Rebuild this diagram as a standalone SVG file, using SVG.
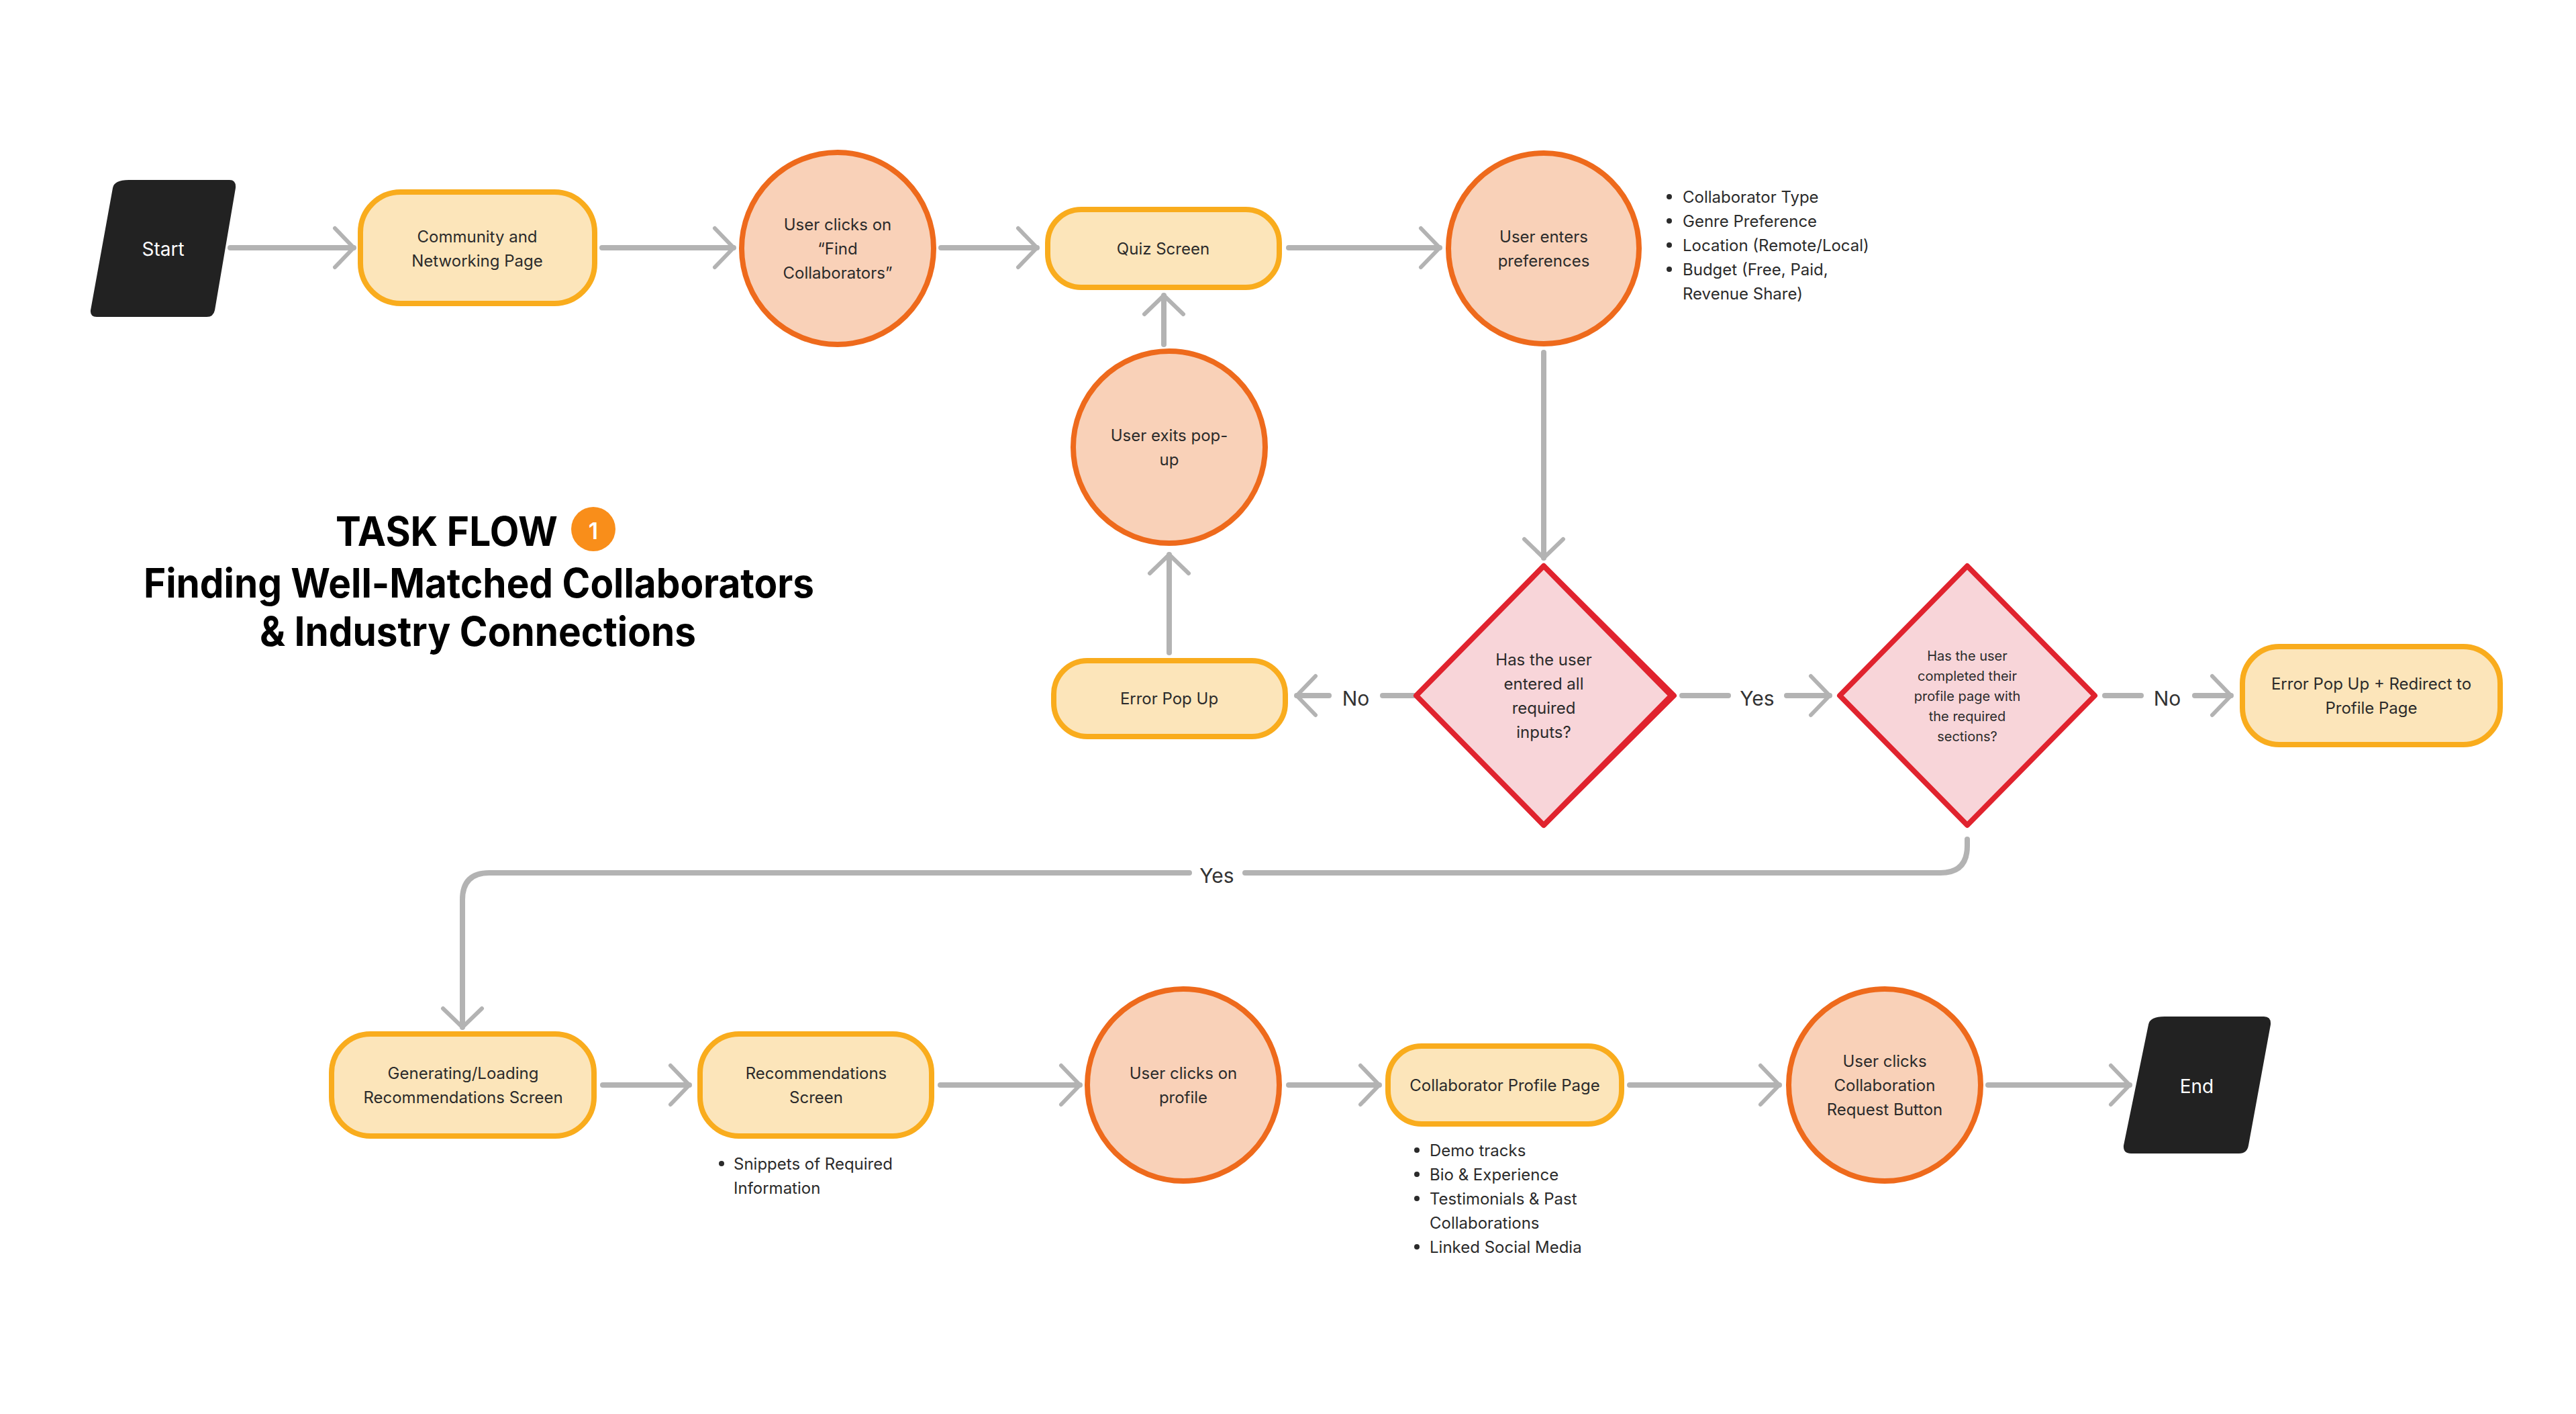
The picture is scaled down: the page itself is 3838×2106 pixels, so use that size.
<svg xmlns="http://www.w3.org/2000/svg" width="3838" height="2106" viewBox="0 0 3838 2106">
<style>
text{font-family:Inter,"Noto Sans","Liberation Sans",sans-serif;fill:#2b2b2b}
.t{font-size:24px;text-anchor:middle;dominant-baseline:central}
.b{font-size:24px}
.box{fill:#FCE5BA;stroke:#F9AC1D;stroke-width:8}
.circ{fill:#F9D1B8;stroke:#EE6A1C;stroke-width:8}
.dia{fill:#F8D5D9;stroke:#E0232E;stroke-width:8;stroke-linejoin:round}
.term{fill:#222222}
.c{fill:none;stroke:#B3B3B3;stroke-width:8;stroke-linecap:round}
.a{marker-end:url(#arr)}
.lbl{font-size:30px;text-anchor:middle;dominant-baseline:central;fill:#333}
</style>
<defs>
<marker id="arr" markerUnits="userSpaceOnUse" markerWidth="80" markerHeight="80" viewBox="-40 -40 80 80" refX="0" refY="0" orient="auto" overflow="visible">
<path d="M-28,-29 L0,0 L-28,29" fill="none" stroke="#B3B3B3" stroke-width="6" stroke-linecap="round" stroke-linejoin="round"/>
</marker>
</defs>
<rect width="3838" height="2106" fill="#fff"/>

<g id="connectors">
<line class="c a" x1="343" y1="369" x2="527" y2="369"/>
<line class="c a" x1="897" y1="369" x2="1093" y2="369"/>
<line class="c a" x1="1402" y1="369" x2="1545" y2="369"/>
<line class="c a" x1="1920" y1="369" x2="2145" y2="369"/>
<line class="c a" x1="2300" y1="525" x2="2300" y2="831"/>
<line class="c a" x1="1734" y1="513" x2="1734" y2="440"/>
<line class="c a" x1="1742" y1="972" x2="1742" y2="826"/>
<line class="c" x1="2106" y1="1036" x2="2060" y2="1036"/>
<text class="lbl" x="2020" y="1040">No</text>
<line class="c a" x1="1980" y1="1036" x2="1932" y2="1036"/>
<line class="c" x1="2506" y1="1036" x2="2575" y2="1036"/>
<text class="lbl" x="2618" y="1040">Yes</text>
<line class="c a" x1="2662" y1="1036" x2="2726" y2="1036"/>
<line class="c" x1="3136" y1="1036" x2="3190" y2="1036"/>
<text class="lbl" x="3229" y="1040">No</text>
<line class="c a" x1="3270" y1="1036" x2="3324" y2="1036"/>
<path class="c" d="M2931,1250 L2931,1260 Q2931,1300 2891,1300 L1855,1300"/>
<text class="lbl" x="1813" y="1304">Yes</text>
<path class="c a" d="M1772,1300 L729,1300 Q689,1300 689,1340 L689,1530"/>
<line class="c a" x1="898" y1="1616" x2="1027" y2="1616"/>
<line class="c a" x1="1401" y1="1616" x2="1609" y2="1616"/>
<line class="c a" x1="1920" y1="1616" x2="2055" y2="1616"/>
<line class="c a" x1="2428" y1="1616" x2="2651" y2="1616"/>
<line class="c a" x1="2962" y1="1616" x2="3173" y2="1616"/>
</g>

<g id="title">
<text x="500" y="813" font-size="60" font-weight="700" fill="#000" style="fill:#000" textLength="331" lengthAdjust="spacingAndGlyphs">TASK FLOW</text>
<circle cx="884" cy="788" r="33" fill="#F98E1A"/>
<text x="884" y="790" font-size="34" font-weight="600" text-anchor="middle" dominant-baseline="central" style="fill:#fff">1</text>
<text x="214" y="890" font-size="60" font-weight="700" style="fill:#000" textLength="999" lengthAdjust="spacingAndGlyphs">Finding Well-Matched Collaborators</text>
<text x="387" y="962" font-size="60" font-weight="700" style="fill:#000" textLength="650" lengthAdjust="spacingAndGlyphs">&amp; Industry Connections</text>
</g>

<g id="start">
<path class="term" d="M192,268 L342,268 Q352,268 351,280 L320,462 Q318,472 308,472 L144,472 Q134,472 135,462 L168,280 Q170,268 192,268Z"/>
<text class="t" x="243" y="371" font-size="28" style="fill:#fff;font-size:28px">Start</text>
</g>

<g id="community">
<rect class="box" x="537" y="286" width="349" height="166" rx="60"/>
<text class="t" x="711" y="352">Community and</text>
<text class="t" x="711" y="388">Networking Page</text>
</g>

<g id="find-collab">
<circle class="circ" cx="1248" cy="370" r="143"/>
<text class="t" x="1248" y="334">User clicks on</text>
<text class="t" x="1248" y="370">“Find</text>
<text class="t" x="1248" y="406">Collaborators”</text>
</g>

<g id="quiz">
<rect class="box" x="1561" y="312" width="345" height="116" rx="50"/>
<text class="t" x="1733" y="370">Quiz Screen</text>
</g>

<g id="prefs">
<circle class="circ" cx="2300" cy="370" r="142"/>
<text class="t" x="2300" y="352">User enters</text>
<text class="t" x="2300" y="388">preferences</text>
<g class="bl">
<circle cx="2487" cy="293" r="4" fill="#2b2b2b"/><text class="b" x="2507" y="293" dominant-baseline="central">Collaborator Type</text>
<circle cx="2487" cy="329" r="4" fill="#2b2b2b"/><text class="b" x="2507" y="329" dominant-baseline="central">Genre Preference</text>
<circle cx="2487" cy="365" r="4" fill="#2b2b2b"/><text class="b" x="2507" y="365" dominant-baseline="central">Location (Remote/Local)</text>
<circle cx="2487" cy="401" r="4" fill="#2b2b2b"/><text class="b" x="2507" y="401" dominant-baseline="central">Budget (Free, Paid,</text>
<text class="b" x="2507" y="437" dominant-baseline="central">Revenue Share)</text>
</g>
</g>

<g id="exit-popup">
<circle class="circ" cx="1742" cy="666" r="143"/>
<text class="t" x="1742" y="648">User exits pop-</text>
<text class="t" x="1742" y="684">up</text>
</g>

<g id="error-popup">
<rect class="box" x="1570" y="984" width="345" height="113" rx="50"/>
<text class="t" x="1742" y="1040">Error Pop Up</text>
</g>

<g id="decision1">
<path class="dia" d="M2300,843 L2494,1036 L2300,1229 L2114,1036 Z"/>
<path class="dia" d="M2300,843 L2490,1036 L2300,1229 L2110,1036 Z"/>
<text class="t" x="2300" y="982">Has the user</text>
<text class="t" x="2300" y="1018">entered all</text>
<text class="t" x="2300" y="1054">required</text>
<text class="t" x="2300" y="1090">inputs?</text>
</g>

<g id="decision2">
<path class="dia" d="M2931,843 L3121,1036 L2931,1229 L2741,1036 Z"/>
<text class="t" x="2931" y="977" style="font-size:20px">Has the user</text>
<text class="t" x="2931" y="1007" style="font-size:20px">completed their</text>
<text class="t" x="2931" y="1037" style="font-size:20px">profile page with</text>
<text class="t" x="2931" y="1067" style="font-size:20px">the required</text>
<text class="t" x="2931" y="1097" style="font-size:20px">sections?</text>
</g>

<g id="error-redirect">
<rect class="box" x="3341" y="963" width="384" height="146" rx="55"/>
<text class="t" x="3533" y="1018">Error Pop Up + Redirect to</text>
<text class="t" x="3533" y="1054">Profile Page</text>
</g>

<g id="loading">
<rect class="box" x="494" y="1540" width="391" height="152" rx="58"/>
<text class="t" x="690" y="1598">Generating/Loading</text>
<text class="t" x="690" y="1634">Recommendations Screen</text>
</g>

<g id="recs">
<rect class="box" x="1043" y="1540" width="345" height="152" rx="58"/>
<text class="t" x="1216" y="1598">Recommendations</text>
<text class="t" x="1216" y="1634">Screen</text>
<circle cx="1075" cy="1733" r="4" fill="#2b2b2b"/><text class="b" x="1093" y="1733" dominant-baseline="central">Snippets of Required</text>
<text class="b" x="1093" y="1769" dominant-baseline="central">Information</text>
</g>

<g id="click-profile">
<circle class="circ" cx="1763" cy="1616" r="143"/>
<text class="t" x="1763" y="1598">User clicks on</text>
<text class="t" x="1763" y="1634">profile</text>
</g>

<g id="collab-profile">
<rect class="box" x="2068" y="1558" width="348" height="116" rx="50"/>
<text class="t" x="2242" y="1616">Collaborator Profile Page</text>
<circle cx="2111" cy="1713" r="4" fill="#2b2b2b"/><text class="b" x="2130" y="1713" dominant-baseline="central">Demo tracks</text>
<circle cx="2111" cy="1749" r="4" fill="#2b2b2b"/><text class="b" x="2130" y="1749" dominant-baseline="central">Bio &amp; Experience</text>
<circle cx="2111" cy="1785" r="4" fill="#2b2b2b"/><text class="b" x="2130" y="1785" dominant-baseline="central">Testimonials &amp; Past</text>
<text class="b" x="2130" y="1821" dominant-baseline="central">Collaborations</text>
<circle cx="2111" cy="1857" r="4" fill="#2b2b2b"/><text class="b" x="2130" y="1857" dominant-baseline="central">Linked Social Media</text>
</g>

<g id="collab-request">
<circle class="circ" cx="2808" cy="1616" r="143"/>
<text class="t" x="2808" y="1580">User clicks</text>
<text class="t" x="2808" y="1616">Collaboration</text>
<text class="t" x="2808" y="1652">Request Button</text>
</g>

<g id="end">
<path class="term" d="M3225,1514 L3373,1514 Q3384,1514 3383,1526 L3350,1706 Q3348,1718 3336,1718 L3175,1718 Q3163,1718 3164,1706 L3201,1526 Q3203,1514 3225,1514Z"/>
<text class="t" x="3273" y="1618" style="fill:#fff;font-size:28px">End</text>
</g>
</svg>
